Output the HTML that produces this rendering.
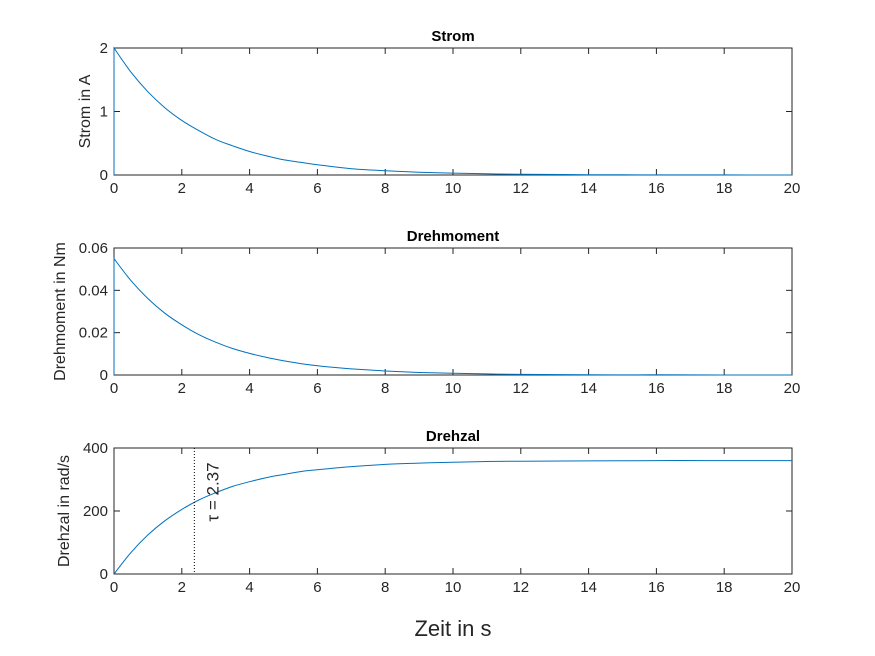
<!DOCTYPE html>
<html><head><meta charset="utf-8"><style>
body{margin:0;background:#fff;}
svg{display:block;font-family:"Liberation Sans",Arial,sans-serif;}
.tick{font-size:15px;fill:#262626;}
.title{font-size:15px;font-weight:bold;fill:#000;}
.ylab{font-size:16px;fill:#262626;}
</style></head><body>
<svg id="chart" width="875" height="656"></svg>
<script>
const times=[0,0.5,1,1.5,2,2.5,3,3.5,4,4.5,5,5.5,6,7,8,9,10,11,12,14,16,18,20];
const strom=[2,1.62,1.31,1.06,0.86,0.70,0.56,0.46,0.37,0.30,0.24,0.20,0.16,0.10,0.068,0.044,0.03,0.019,0.013,0.005,0.002,0.001,0];
const moment=[0.055,0.0446,0.0361,0.0292,0.0237,0.0191,0.0155,0.0125,0.0102,0.0083,0.0067,0.0054,0.0044,0.0029,0.0019,0.0012,0.0008,0.0005,0.0003,0.0001,0.0001,0,0];
const drehzal=[0,68,124,169,205,235,258,278,293,306,316,325,331,341,348,352,355,357,358,359,360,360,360];
const xTicks=[0,2,4,6,8,10,12,14,16,18,20];
const tau=2.37;
const panels=[
 {name:'strom',title:'Strom',ylab:'Strom in A',top:48,bot:175,ymax:2,yt:[0,1,2],yl:['0','1','2'],data:strom,step:true},
 {name:'drehmoment',title:'Drehmoment',ylab:'Drehmoment in Nm',top:248,bot:375,ymax:0.06,yt:[0,0.02,0.04,0.06],yl:['0','0.02','0.04','0.06'],data:moment,step:true},
 {name:'drehzal',title:'Drehzal',ylab:'Drehzal in rad/s',top:448,bot:574,ymax:400,yt:[0,200,400],yl:['0','200','400'],data:drehzal,step:false}
];
const NS='http://www.w3.org/2000/svg';
const svg=document.getElementById('chart');
function mk(tag,at,parent,txt){const e=document.createElementNS(NS,tag);for(const k in at)e.setAttribute(k,at[k]);if(txt!==undefined)e.textContent=txt;(parent||svg).appendChild(e);return e;}
const X0=114,X1=792;
const xs=t=>X0+(t/20)*(X1-X0);
function smooth(pts){
 let d='M'+pts[0][0].toFixed(1)+','+pts[0][1].toFixed(1);
 for(let i=0;i<pts.length-1;i++){
  const p0=pts[Math.max(0,i-1)],p1=pts[i],p2=pts[i+1],p3=pts[Math.min(pts.length-1,i+2)];
  const c1=[p1[0]+(p2[0]-p0[0])/6,p1[1]+(p2[1]-p0[1])/6];
  const c2=[p2[0]-(p3[0]-p1[0])/6,p2[1]-(p3[1]-p1[1])/6];
  d+=`C${c1[0].toFixed(1)},${c1[1].toFixed(1)} ${c2[0].toFixed(1)},${c2[1].toFixed(1)} ${p2[0].toFixed(1)},${p2[1].toFixed(1)}`;
 }
 return d;
}
panels.forEach(p=>{
 const ys=v=>p.bot-(v/p.ymax)*(p.bot-p.top);
 const g=mk('g',{});
 
 
 const r=mk('rect',{x:X0,y:p.top,width:X1-X0,height:p.bot-p.top,fill:'#fff',stroke:'#262626','stroke-width':1},g);
 
 
 xTicks.forEach(t=>{
  mk('line',{x1:xs(t),x2:xs(t),y1:p.bot,y2:p.bot-6,stroke:'#262626'},g);
  mk('line',{x1:xs(t),x2:xs(t),y1:p.top,y2:p.top+6,stroke:'#262626'},g);
  const tx=mk('text',{x:xs(t),y:p.bot+18,'text-anchor':'middle',class:'tick'},g,String(t));
  
  
 });
 p.yt.forEach((v,i)=>{
  mk('line',{x1:X0,x2:X0+6,y1:ys(v),y2:ys(v),stroke:'#262626'},g);
  mk('line',{x1:X1,x2:X1-6,y1:ys(v),y2:ys(v),stroke:'#262626'},g);
  const tx=mk('text',{x:X0-6,y:ys(v)+5,'text-anchor':'end',class:'tick'},g,p.yl[i]);
  
  
 });
 const tt=mk('text',{x:(X0+X1)/2,y:p.top-7,'text-anchor':'middle',class:'title'},g,p.title);
 
 
 const cy=(p.top+p.bot)/2;
 const yl=mk('text',{x:0,y:0,transform:`translate(${p.name==='strom'?90:p.name==='drehmoment'?65:69},${cy}) rotate(-90)`,'text-anchor':'middle',class:'ylab'},g,p.ylab);
 
 
 const pts=times.map((t,i)=>[xs(t),ys(p.data[i])]);
 let d=smooth(pts);
 if(p.step) d=`M${xs(0)},${ys(0)}L`+d.slice(1);
 const path=mk('path',{d:d,fill:'none',stroke:'#0072BD','stroke-width':1},g);
 
 
 if(p.name==='drehzal'){
  const vl=mk('line',{x1:xs(tau),x2:xs(tau),y1:p.top,y2:p.bot,stroke:'#000','stroke-width':1,'stroke-dasharray':'1,2'},g);
  
  
  const lt=mk('text',{x:0,y:0,transform:`translate(${xs(tau)+24},${p.top+44}) rotate(-90)`,'text-anchor':'middle',style:'font-size:17px;fill:#262626'},g,'τ = 2.37');
  
  
 }
});
const xl=mk('text',{x:(X0+X1)/2,y:636,'text-anchor':'middle',style:'font-size:22px;fill:#262626'},svg,'Zeit in s');


</script>
</body></html>
